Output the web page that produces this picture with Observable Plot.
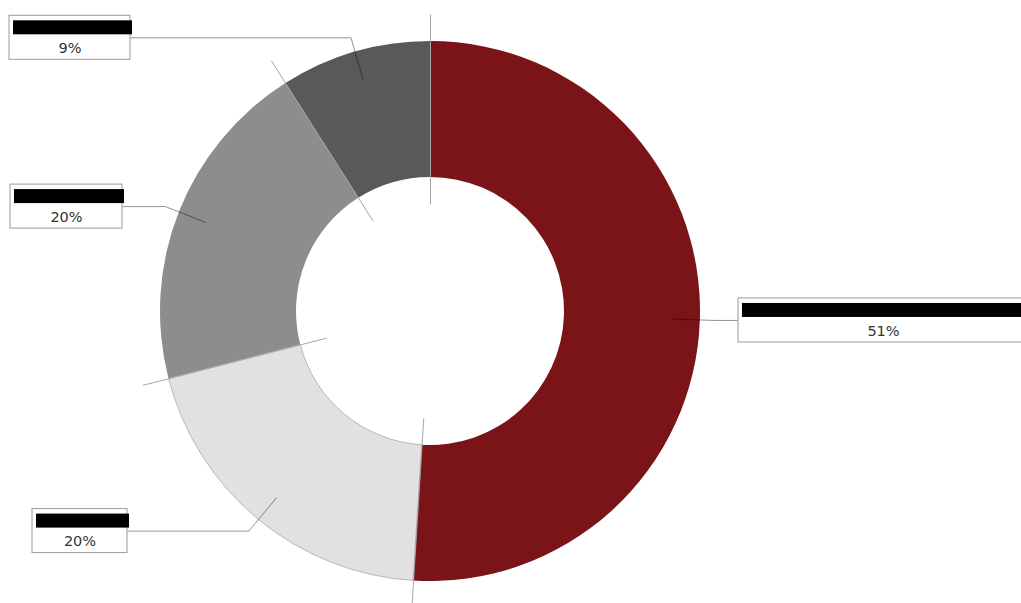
<!DOCTYPE html>
<html>
<head>
<meta charset="utf-8">
<script src="https://cdn.jsdelivr.net/npm/d3@7"></script>
<script src="https://cdn.jsdelivr.net/npm/@observablehq/plot@0.6"></script>
<style>
  html, body { margin: 0; padding: 0; background: #fff; overflow: hidden; }
  #chart svg { display: block; }
</style>
</head>
<body>
<div id="chart"></div>
<script>
// ---- data ----
const categories = ["Category A", "Category B", "Category C", "Category D"];
const values = [51, 20, 20, 9];
const percentLabels = ["51%", "20%", "20%", "9%"];
const colors = ["#7B1419", "#E2E0E2", "#8E8C8D", "#5A5859"];

// ---- layout (data units = pixels, centre of the ring at 0,0, y up) ----
const W = 1021, H = 603;
const CX = 430, CY = 311;
const R_IN = 134, R_OUT = 270;
const R_SEP0 = 107, R_SEP1 = 297;
const R_LEAD0 = 242, R_LEAD1 = 285;
const boxEdge = [308, -303, -308, -300];   // x of the box side facing the ring
const boxWidth = [290, 95, 112, 121];
const BOX_H = 44;

const arcs = d3.pie().sort(null).value(d => d)(values);
const polar = (r, a) => [r * Math.sin(a), r * Math.cos(a)];

// separators
const seps = arcs.map(a => {
  const [x1, y1] = polar(R_SEP0, a.startAngle);
  const [x2, y2] = polar(R_SEP1, a.startAngle);
  return {x1, y1, x2, y2};
});

// leaders and boxes
const leaders = [];
const boxes = [];
arcs.forEach((a, i) => {
  const mid = (a.startAngle + a.endAngle) / 2;
  const p0 = polar(R_LEAD0, mid);
  const p1 = polar(R_LEAD1, mid);
  const right = boxEdge[i] > 0;
  const yL = p1[1];
  leaders.push({i, x: p0[0], y: p0[1]}, {i, x: p1[0], y: p1[1]}, {i, x: boxEdge[i], y: yL});
  const xa = boxEdge[i], xb = right ? boxEdge[i] + boxWidth[i] : boxEdge[i] - boxWidth[i];
  const left = Math.min(xa, xb), rightX = Math.max(xa, xb);
  boxes.push({
    i, name: categories[i], pct: percentLabels[i],
    x1: left, x2: rightX, y1: yL - BOX_H / 2, y2: yL + BOX_H / 2,
    bx1: left + 4, bx2: rightX + 2, by1: yL + BOX_H / 2 - 19, by2: yL + BOX_H / 2 - 5,
    cx: (left + rightX) / 2, ty: yL - 10.5, ny: yL + BOX_H / 2 - 12
  });
});

const ringMark = (index, scales, values, dims) => {
  const g = d3.create("svg:g");
  const cx = scales.x(0), cy = scales.y(0);
  const k = scales.x(1) - scales.x(0);
  const arc = d3.arc().innerRadius(R_IN * k).outerRadius(R_OUT * k);
  g.selectAll("path").data(arcs).join("path")
    .attr("transform", `translate(${cx},${cy})`)
    .attr("d", arc)
    .attr("fill", (d, i) => colors[i])
    .attr("stroke", (d, i) => i === 1 ? "#b9b9b9" : "none")
    .attr("stroke-width", 1);
  return g.node();
};

const chart = Plot.plot({
  width: W,
  height: H,
  margin: 0,
  x: {domain: [-CX, W - CX], range: [0, W], axis: null},
  y: {domain: [CY - H, CY], range: [H, 0], axis: null},
  style: {fontFamily: "DejaVu Sans, sans-serif", background: "#fff", overflow: "hidden"},
  marks: [
    ringMark,
    Plot.link(seps, {x1: "x1", y1: "y1", x2: "x2", y2: "y2", stroke: "#a6a6a6", strokeWidth: 1}),
    Plot.line(leaders, {x: "x", y: "y", z: "i", stroke: "#000", strokeOpacity: 0.42, strokeWidth: 1}),
    Plot.rect(boxes, {x1: "x1", x2: "x2", y1: "y1", y2: "y2", fill: "#fff", stroke: "#9a9a9a", strokeWidth: 1}),
    Plot.rect(boxes, {x1: "bx1", x2: "bx2", y1: "by1", y2: "by2", fill: "#000"}),
    Plot.text(boxes, {x: "cx", y: "ny", text: "name", fill: "#000", fontSize: 11}),
    Plot.text(boxes, {x: "cx", y: "ty", text: "pct", fill: "#333", fontSize: 14.5})
  ]
});
document.getElementById("chart").appendChild(chart);
</script>
</body>
</html>
